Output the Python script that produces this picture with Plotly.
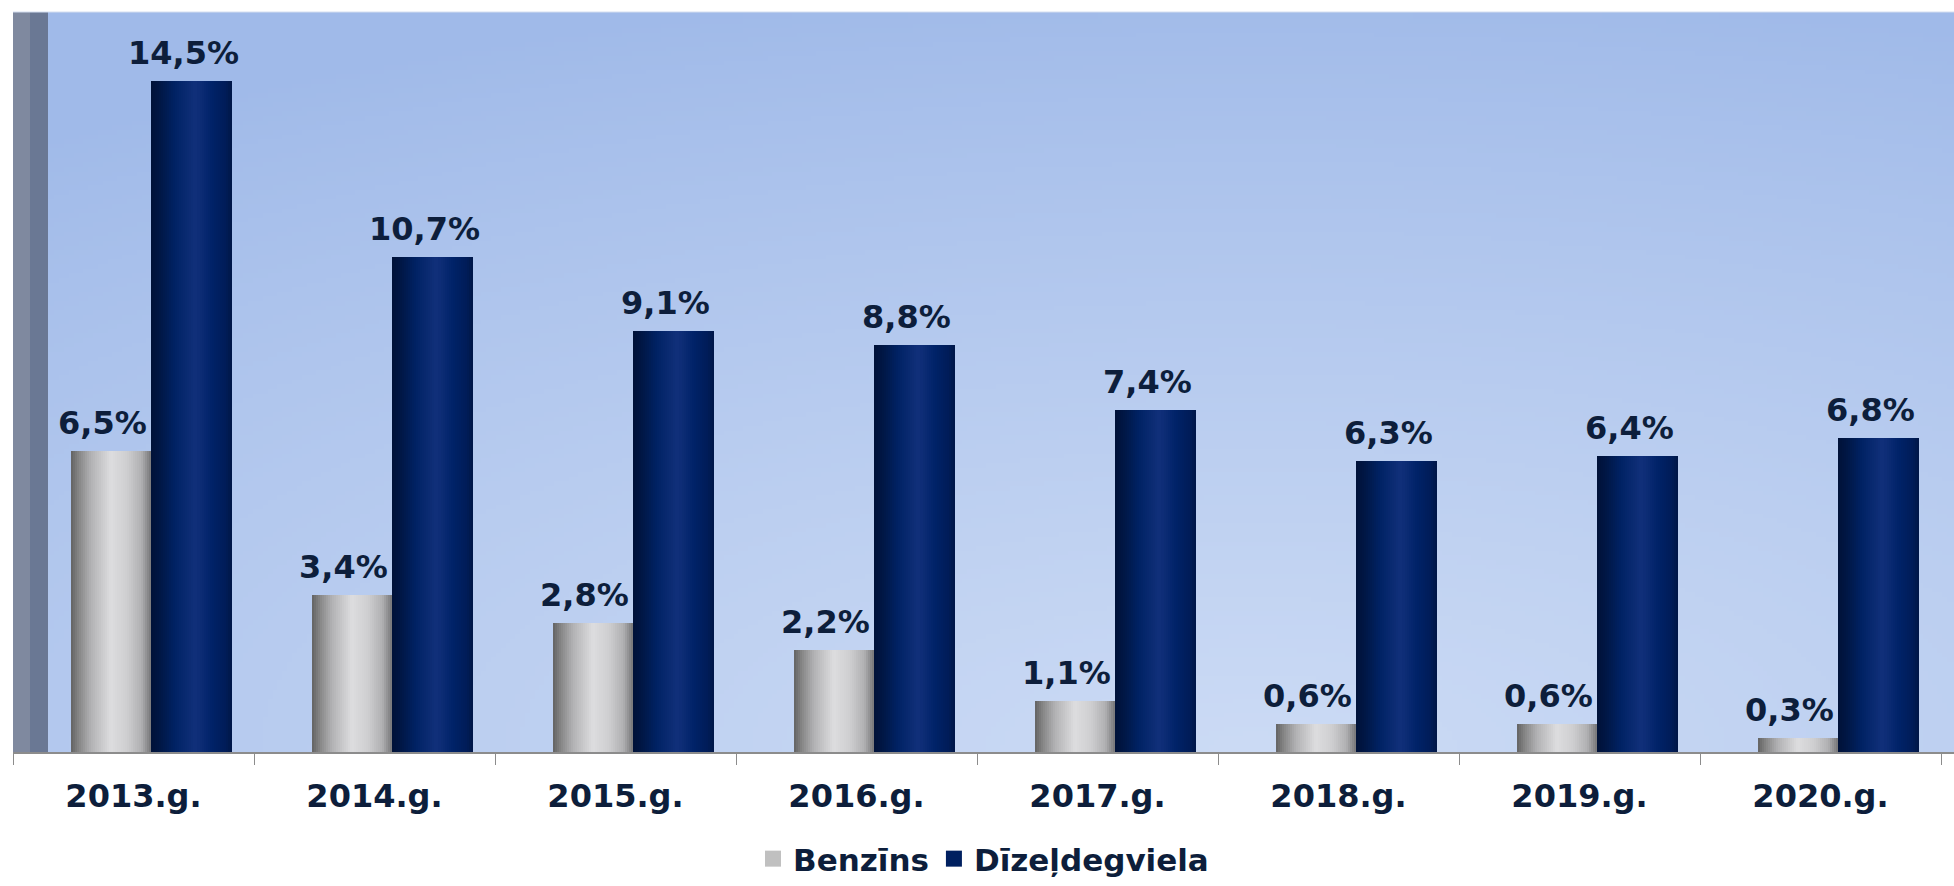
import base64, struct, zlib
import numpy as np
import plotly.graph_objects as go

# ---------------- data ----------------
categories = ["2013.g.", "2014.g.", "2015.g.", "2016.g.", "2017.g.", "2018.g.", "2019.g.", "2020.g."]
benzins = [6.5, 3.4, 2.8, 2.2, 1.1, 0.6, 0.6, 0.3]
dizeldegviela = [14.5, 10.7, 9.1, 8.8, 7.4, 6.3, 6.4, 6.8]
series_names = ["Benzīns", "Dīzeļdegviela"]

# ---------------- style ----------------
W, H = 1954, 886
ML, MR, MT, MB = 13, 0, 12, 134
TEXT = "#0d1e3b"
FONT = "DejaVu Sans"
CAT_PX = 241.0
plot_w = W - ML - MR
x_range = [-0.5, -0.5 + plot_w / CAT_PX]

bar_w = 80.5 / CAT_PX
benz_off = -62.8 / CAT_PX
diz_off = benz_off + bar_w

gray_stops = [(0.0, (98, 98, 98)), (0.08, (128, 128, 128)), (0.25, (178, 178, 180)),
              (0.5, (221, 221, 223)), (0.7, (206, 206, 208)), (0.88, (176, 176, 178)),
              (1.0, (118, 118, 120))]
navy_stops = [(0.0, (0, 17, 55)), (0.12, (0, 23, 70)), (0.3, (0, 34, 100)),
              (0.55, (17, 48, 122)), (0.75, (0, 34, 104)), (0.92, (0, 28, 88)),
              (1.0, (0, 22, 70))]


def interp(stops, t):
    for (p0, c0), (p1, c1) in zip(stops[:-1], stops[1:]):
        if p0 <= t <= p1:
            f = (t - p0) / (p1 - p0) if p1 > p0 else 0
            return tuple(int(round(a + (b - a) * f)) for a, b in zip(c0, c1))
    return stops[-1][1]


def png_data_uri(arr):
    h, w, _ = arr.shape
    raw = b"".join(b"\x00" + arr[r].astype(np.uint8).tobytes() for r in range(h))
    def chunk(tag, data):
        c = struct.pack(">I", len(data)) + tag + data
        return c + struct.pack(">I", zlib.crc32(tag + data) & 0xffffffff)
    png = b"\x89PNG\r\n\x1a\n" + chunk(b"IHDR", struct.pack(">IIBBBBB", w, h, 8, 2, 0, 0, 0)) \
        + chunk(b"IDAT", zlib.compress(raw, 9)) + chunk(b"IEND", b"")
    return "data:image/png;base64," + base64.b64encode(png).decode()


# background gradient (lighter toward lower centre-right)
gw, gh = 400, 160
xs = np.linspace(0, 1, gw)[None, :]
ys = np.linspace(1, 0, gh)[:, None]  # 1 at top
d = np.sqrt(((xs - 0.64) / 1.0) ** 2 + (ys / 1.0) ** 2)
t = np.clip(1 - d / 1.05, 0, 1) ** 0.9
dark = np.array([160, 186, 233])
light = np.array([204, 219, 245])
bg = dark[None, None, :] + (light - dark)[None, None, :] * t[:, :, None]
bg_uri = png_data_uri(np.clip(bg, 0, 255))

fig = go.Figure()

N = 40
for values, off, stops, name in [(benzins, benz_off, gray_stops, series_names[0]),
                                 (dizeldegviela, diz_off, navy_stops, series_names[1])]:
    sw = bar_w / N
    for k in range(N):
        c = interp(stops, (k + 0.5) / N)
        fig.add_trace(go.Bar(
            x=categories, y=values, offset=off + k * sw, width=sw * 1.15,
            marker=dict(color="rgb(%d,%d,%d)" % c, line=dict(width=0)),
            showlegend=False, hoverinfo="skip", name=name,
        ))

# legend entries
for name, col in [(series_names[0], "#c0c0c0"), (series_names[1], "#002060")]:
    fig.add_trace(go.Scatter(x=[None], y=[None], mode="markers", name=name,
                             marker=dict(symbol="square", size=17, color=col)))

# value labels
annotations = []
for i, cat in enumerate(categories):
    for values, off in [(benzins, benz_off), (dizeldegviela, diz_off)]:
        v = values[i]
        annotations.append(dict(
            x=i + off + bar_w / 2 - 8 / CAT_PX, y=v, xref="x", yref="y",
            text=("%.1f%%" % v).replace(".", ","), showarrow=False,
            yanchor="bottom", yshift=7,
            font=dict(family=FONT, size=32, color=TEXT, weight="bold"),
        ))

shapes = [
    dict(type="rect", xref="x", yref="paper", x0=-0.5, x1=-0.5 + 17 / CAT_PX, y0=0, y1=1,
         fillcolor="#7f899f", line=dict(width=0), layer="below"),
    dict(type="rect", xref="x", yref="paper", x0=-0.5 + 17 / CAT_PX, x1=-0.5 + 35 / CAT_PX, y0=0, y1=1,
         fillcolor="#6a7894", line=dict(width=0), layer="below"),
    dict(type="line", xref="paper", yref="paper", x0=0, x1=1, y0=1, y1=1,
         line=dict(color="#d4def0", width=1)),
]

fig.update_layout(
    width=W, height=H,
    margin=dict(l=ML, r=MR, t=MT, b=MB, autoexpand=False),
    paper_bgcolor="white", plot_bgcolor="#b4c9ef",
    barmode="overlay", bargap=0,
    showlegend=True,
    legend=dict(orientation="h", x=0.5, xanchor="center",
                yref="container", y=0, yanchor="bottom",
                font=dict(family=FONT, size=31, color=TEXT, weight="bold"),
                itemsizing="trace", traceorder="normal"),
    annotations=annotations,
    shapes=shapes,
    images=[dict(source=bg_uri, xref="paper", yref="paper", x=0, y=1, sizex=1, sizey=1,
                 xanchor="left", yanchor="top", sizing="stretch", layer="below")],
    xaxis=dict(type="category", range=x_range, showgrid=False, zeroline=False,
               showline=True, linecolor="#8c8c8c", linewidth=2,
               ticks="outside", tickson="boundaries", ticklen=11, tickcolor="#8c8c8c", tickwidth=1,
               tickfont=dict(family=FONT, size=32, color=TEXT, weight="bold"),
               ticklabelstandoff=15, fixedrange=True),
    yaxis=dict(range=[0, 16], visible=False, showgrid=False, zeroline=False, fixedrange=True),
)

fig.write_html("out.html", config={"displayModeBar": False},
               post_script="document.body.style.margin='0';document.body.style.overflow='hidden';")
